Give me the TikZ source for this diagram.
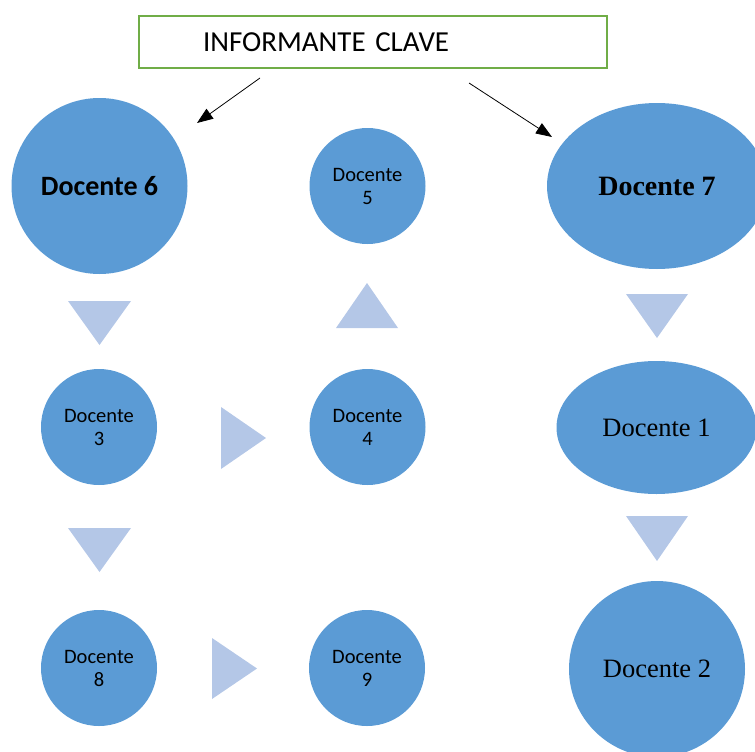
\documentclass[tikz,border=0pt]{standalone}
\usepackage{fontspec}
\setmainfont{Carlito}
\newfontfamily\timesfont{Liberation Serif}
\usetikzlibrary{arrows.meta}
\usetikzlibrary{positioning}
\usetikzlibrary{shapes.geometric}

\definecolor{docblue}{HTML}{5B9BD5}
\definecolor{triblue}{HTML}{B4C7E7}
\definecolor{boxgreen}{HTML}{70AD47}

\begin{document}
\begin{tikzpicture}[x=1pt, y=-1pt,
    docente/.style={circle, fill=docblue, inner sep=0pt, align=center, font=\fontsize{20.5}{23}\selectfont},
    docoval/.style={ellipse, fill=docblue, inner sep=0pt, align=center},
    tri/.style={fill=triblue},
    flecha/.style={-{Triangle[length=16pt, width=12pt]}, line width=0.8pt}]

    \useasboundingbox (0,0) rectangle (755,752);

    % informante clave
    \node[draw=boxgreen, line width=1.6pt, rectangle, minimum height=52pt, text width=340pt, inner xsep=64pt, align=left, font=\fontsize{29}{30}\selectfont] (clave) at (373,42) {\raisebox{-4.5pt}{INFORMANTE CLAVE}};
    \coordinate (c1s) at (260,78);
    \coordinate (c1e) at (197,123);
    \coordinate (c2s) at (469,83);
    \coordinate (c2e) at (552,137);
    \draw[flecha] (c1s) -- (c1e);
    \draw[flecha] (c2s) -- (c2e);

    % primera fila
    \node[docente, minimum size=176pt, font=\fontsize{28}{30}\selectfont\bfseries] (d6) at (99.5,186) {Docente 6};
    \node[docente, minimum size=116pt] (d5) at (367.5,186) {Docente\\5};
    \node[docoval, minimum width=220pt, minimum height=166pt, font=\fontsize{28}{30}\timesfont\bfseries] (d7) at (657,186) {Docente 7};

    % segunda fila
    \node[docente, minimum size=116pt] (d3) at (99,427) {Docente\\3};
    \node[docente, minimum size=116pt] (d4) at (367.5,427) {Docente\\4};
    \node[docoval, minimum width=200pt, minimum height=133pt, font=\fontsize{26.5}{28}\timesfont] (d1) at (656.5,427.5) {Docente 1};

    % tercera fila
    \node[docente, minimum size=116pt] (d8) at (99,668) {Docente\\8};
    \node[docente, minimum size=116pt] (d9) at (367,668) {Docente\\9};
    \node[docente, minimum size=176pt, font=\fontsize{26.5}{28}\timesfont] (d2) at (657,669) {Docente 2};

    % triangulos
    \fill[tri] (68,301) -- (131,301) -- (99.5,345) -- cycle;
    \fill[tri] (336,328) -- (398,328) -- (367,283) -- cycle;
    \fill[tri] (626,294) -- (688,294) -- (657,338) -- cycle;
    \fill[tri] (221,407) -- (221,469) -- (266,438) -- cycle;
    \fill[tri] (68,528) -- (131,528) -- (99.5,572) -- cycle;
    \fill[tri] (626,516) -- (688,516) -- (657,561) -- cycle;
    \fill[tri] (212,638) -- (212,699) -- (257,668.5) -- cycle;

\end{tikzpicture}
\end{document}
